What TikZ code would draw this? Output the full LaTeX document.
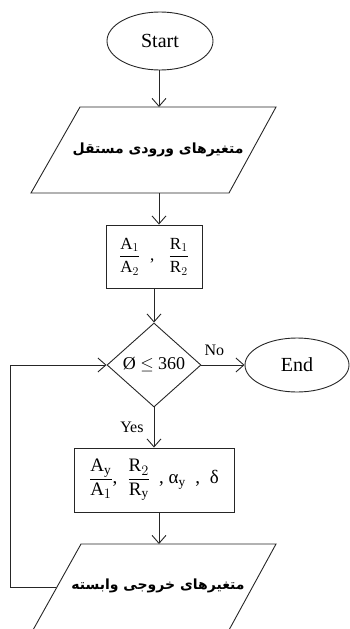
\documentclass[tikz,border=0pt]{standalone}
\usepackage{fontspec}
\setmainfont{Liberation Serif}
\newfontfamily\fafont[Script=Arabic]{DejaVu Sans}
\TeXXeTstate=1
\usetikzlibrary{shapes.geometric,arrows.meta}
\tikzset{
  line/.style={draw=black!85, line width=0.9pt},
  arr/.style={line, -{Straight Barb[length=8pt,width=14pt]}},
  oval/.style={ellipse, line, inner sep=0pt, font=\fontsize{20}{24}\selectfont},
  procbox/.style={rectangle, line, inner sep=0pt, font=\fontsize{17}{20}\selectfont},
  decide/.style={diamond, line, aspect=1.12, inner sep=0pt, minimum width=94pt, minimum height=84pt, font=\fontsize{18}{22}\selectfont},
  iotext/.style={inner sep=0pt, font=\fafont\bfseries\fontsize{14}{18}\selectfont},
  lbl/.style={inner sep=0pt, font=\fontsize{16}{19}\selectfont},
}
\begin{document}
\begin{tikzpicture}[x=1pt,y=-1pt]
\useasboundingbox (0,0) rectangle (350,629);
% Start
\node[oval, minimum width=106pt, minimum height=58pt] (start) at (160,41) {Start};
% input parallelogram
\draw[line] (80,107) -- (276,107) -- (229,193) -- (31,193) -- cycle;
\coordinate (p1top) at (159,107);
\coordinate (p1bot) at (159,193);
\node[iotext] (p1) at (158,150) {\beginR متغیرهای ورودی مستقل\endR};
% box 2
\node[procbox, minimum width=96pt, minimum height=63pt] (box2) at (154,256.5)
  {$\displaystyle\frac{\mathrm{A}_1}{\mathrm{A}_2}$\hspace{10pt}, \hspace{10pt}$\displaystyle\frac{\mathrm{R}_1}{\mathrm{R}_2}$};
% decision
\node[decide] (dia) at (154,365) {Ø $\leq$ 360};
% End
\node[oval, minimum width=104pt, minimum height=54pt] (end) at (297,365) {End};
% box 3
\node[procbox, minimum width=160pt, minimum height=64pt, font=\fontsize{19}{22}\selectfont] (box3) at (154,480)
  {$\displaystyle\frac{\mathrm{A}_\mathrm{y}}{\mathrm{A}_1}$,\hspace{10pt}$\displaystyle\frac{\mathrm{R}_2}{\mathrm{R}_\mathrm{y}}$\hspace{9pt}, α$_\mathrm{y}$\hspace{5pt} , \hspace{5pt}δ};
% output parallelogram
\draw[line] (81,544) -- (276,544) -- (229,630) -- (33,630) -- cycle;
\coordinate (p2top) at (159,544);
\coordinate (p2left) at (56,587);
\coordinate (loopc) at (10,587);
\node[iotext] (p2) at (158,586) {\beginR متغیرهای خروجی وابسته\endR};
% connectors
\draw[arr] (start.south -| p1top) -- (p1top);
\draw[arr] (p1bot) -- (p1bot |- box2.north);
\draw[arr] (box2.south) -- (dia.north);
\draw[arr] (dia.east) -- (end.west) node[lbl, pos=0.3, above=9pt] (no) {No};
\draw[arr] (dia.south) -- (box3.north) node[lbl, pos=0.5, left=10pt] (yes) {Yes};
\draw[arr] (box3.south -| p2top) -- (p2top);
\draw[arr] (p2left) -- (loopc) |- (dia.west);
\end{tikzpicture}
\end{document}
